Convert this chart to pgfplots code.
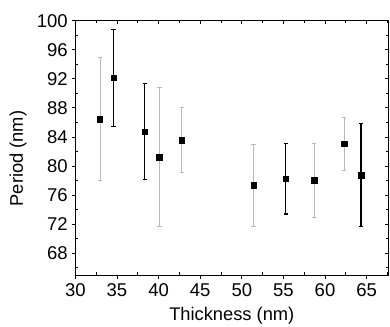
\documentclass[border=0pt]{standalone}
\usepackage{fontspec}
\setmainfont{Liberation Sans}
\usepackage{pgfplots}
\pgfplotsset{compat=1.18}
\begin{document}
\begin{tikzpicture}
\pgfplotsset{
  base/.style={
    scale only axis, width=313pt, height=254.3pt,
    xmin=30, xmax=67.6, ymin=65, ymax=100,
    xtick={30,35,...,65}, ytick={68,72,...,100},
    axis line style={black, line width=0.9pt},
    every tick/.style={black, line width=0.8pt},
    /pgf/number format/assume math mode=true,
    tick label style={font=\fontsize{18.5}{21}\selectfont},
    label style={font=\fontsize{18.3}{21}\selectfont},
  }
}
\begin{axis}[base,
  xtick pos=left, ytick pos=left, tick align=outside,
  major tick length=3.5pt,
  xticklabel style={yshift=-2pt},
  yticklabel style={xshift=-0.5pt},
  xlabel={Thickness (nm)}, ylabel={Period (nm)},
  xlabel style={at={(axis description cs:0.5,-0.161)}, anchor=center},
  ylabel style={at={(axis description cs:-0.183,0.458)}, anchor=center},
]
\addplot[only marks, mark=square*, mark size=2.7pt,
  mark options={black, fill=black},
  error bars/.cd, y dir=both, y explicit,
  error bar style={gray!55, line width=0.8pt},
  error mark options={gray!55, mark size=2.2pt, line width=0.8pt, rotate=90}]
  coordinates {
  (32.96,86.44) +- (0,8.48)
  (40.10,81.24) +- (0,9.56)
  (42.79,83.54) +- (0,4.48)
  (51.42,77.34) +- (0,5.67)
  (58.69,78.03) +- (0,5.15)
  (62.29,83.03) +- (0,3.70)
};
\addplot[only marks, mark=square*, mark size=2.7pt,
  mark options={black, fill=black},
  error bars/.cd, y dir=both, y explicit,
  error bar style={black, line width=1.3pt},
  error mark options={black, mark size=2.2pt, line width=1.1pt, rotate=90}]
  coordinates {
  (34.60,92.14) +- (0,6.66)
  (38.35,84.74) +- (0,6.62)
  (55.29,78.26) +- (0,4.87)
  (64.33,78.72) +- (0,7.10)
};
\end{axis}
\begin{axis}[base,
  xtick pos=right, ytick pos=right, tick align=inside,
  major tick length=3.5pt,
  xticklabels={}, yticklabels={}]
\end{axis}
\begin{axis}[base,
  tick align=inside, major tick length=0pt, minor tick length=2.5pt,
  minor xtick={32.5,37.5,...,67.5}, minor ytick={66,70,...,98},
  xticklabels={}, yticklabels={}]
\end{axis}
\pgfresetboundingbox
\path[use as bounding box] (-75.3pt,-51pt) rectangle (314.7pt,275pt);
\end{tikzpicture}
\end{document}
